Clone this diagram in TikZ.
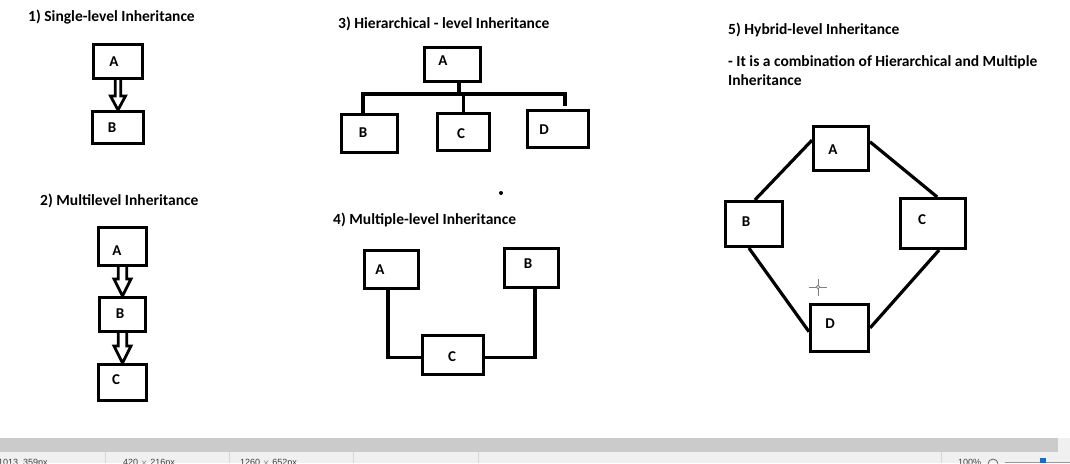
\documentclass[tikz,border=0pt]{standalone}
\usepackage{fontspec}
\setmainfont{Carlito}
\newfontfamily\uifont{Liberation Sans}
\usepackage{tikz}

\definecolor{bar_gray}{HTML}{CBCBCB}
\definecolor{status_gray}{HTML}{F0F0F0}
\definecolor{sep_gray}{HTML}{D6D6D6}
\definecolor{thumb_blue}{HTML}{0A6FD8}

% hollow block arrow: from, to, shaft half width, head half width, head length
\newcommand{\openarrow}[5]{%
  \draw[hollow_arrow] ([xshift=-#3]#1.south) -- ([xshift=-#3,yshift=#5]#2.north)
    -- ([xshift=-#4,yshift=#5]#2.north) -- (#2.north)
    -- ([xshift=#4,yshift=#5]#2.north) -- ([xshift=#3,yshift=#5]#2.north)
    -- ([xshift=#3]#1.south);}

\begin{document}
\begin{tikzpicture}[x=1pt,y=-1pt,
  class_box/.style={draw,line width=3pt,fill=white,inner sep=0pt},
  lbl/.style n args={3}{label={[letter,xshift=#1,yshift=#2]center:#3}},
  letter/.style={font=\bfseries\fontsize{15}{17}\selectfont},
  link/.style={line width=3.2pt},
  hollow_arrow/.style={draw,line width=2.8pt,fill=white,line join=miter},
  title/.style={anchor=base west,inner sep=0pt,font=\bfseries\fontsize{15.5}{19}\selectfont}]

    \useasboundingbox[fill=white] (0,0) rectangle (1070,463);

    % 1) single
    \node[title] (t1) at (28,21.5) {1) Single-level Inheritance};
    \node[class_box,minimum width=49,minimum height=34,lbl={-4}{0}{A}] (A1) at (118,61.5) {};
    \node[class_box,minimum width=51,minimum height=32,lbl={-6}{0}{B}] (B1) at (118,127.5) {};
    \openarrow{A1}{B1}{2.8}{7.5}{14}

    % 2) multilevel
    \node[title] (t2) at (40,205) {2) Multilevel Inheritance};
    \node[class_box,minimum width=48,minimum height=38,lbl={-5.5}{-4.5}{A}] (A2) at (122.5,246.5) {};
    \node[class_box,minimum width=46,minimum height=34,lbl={-2.5}{0.5}{B}] (B2) at (122.5,314.5) {};
    \node[class_box,minimum width=48,minimum height=36,lbl={-6.5}{2.5}{C}] (C2) at (122.5,382.5) {};
    \openarrow{A2}{B2}{4.2}{8.5}{17}
    \openarrow{B2}{C2}{4.2}{8.5}{17}

    % 3) hierarchical
    \node[title] (t3) at (338,28) {3) Hierarchical - level Inheritance};
    \node[class_box,minimum width=56,minimum height=34,lbl={-9.5}{3.5}{A}] (A3) at (452.5,64.5) {};
    \node[class_box,minimum width=56,minimum height=38,lbl={-6.5}{0.5}{B}] (B3) at (369.5,133.5) {};
    \node[class_box,minimum width=52,minimum height=37,lbl={-2.5}{-2}{C}] (C3) at (463.5,132) {};
    \node[class_box,minimum width=61,minimum height=37,lbl={-14}{-1}{D}] (D3) at (558,129) {};
    \coordinate (bar_l) at (363,94);
    \coordinate (bar_r) at (565,94);
    \draw[link] ([xshift=6.5]A3.south) -- ([xshift=6.5]A3.south |- bar_l);
    \draw[link] (B3.north -| bar_l) -- (bar_l) -- (bar_r) -- ++(0,12);
    \draw[link] (C3.north) -- (C3.north |- bar_l);
    \fill (501,193) circle (2);

    % 4) multiple
    \node[title] (t4) at (333,224.5) {4) Multiple-level Inheritance};
    \node[class_box,minimum width=54,minimum height=38,lbl={-11.5}{-0.5}{A}] (A4) at (391.5,269.5) {};
    \node[class_box,minimum width=54,minimum height=39,lbl={-3.5}{4}{B}] (B4) at (531.5,268) {};
    \node[class_box,minimum width=61,minimum height=39,lbl={-1}{-2}{C}] (C4) at (453,355) {};
    \draw[link] ([xshift=-3.5]A4.south) |- ([yshift=-2.5]C4.west);
    \draw[link] ([yshift=-2.5]C4.east) -| ([xshift=3.5]B4.south);

    % 5) hybrid
    \node[title] (t5) at (728,34) {5) Hybrid-level Inheritance};
    \node[title,align=left] (t5_note) at (728,85) {- It is a combination of Hierarchical and Multiple\\Inheritance};
    \node[class_box,minimum width=55,minimum height=44,lbl={-8}{-1.5}{A}] (A5) at (841,148.5) {};
    \node[class_box,minimum width=57,minimum height=45,lbl={-8}{2}{B}] (B5) at (754,224) {};
    \node[class_box,minimum width=65,minimum height=50,lbl={-11}{3.5}{C}] (C5) at (933,223.5) {};
    \node[class_box,minimum width=58,minimum height=47,lbl={-9.5}{4}{D}] (D5) at (839.5,328) {};
    \path[link]
      (A5.164) edge (B5.88)
      (A5.13) edge (C5.81)
      (B5.-102) edge (D5.187)
      (C5.-77) edge (D5.east);

    % cursor
    \draw[gray,line width=1pt] (809,287) -- (827,287) (818,279) -- (818,296);
    \draw[gray,fill=white,line width=0.8pt] (818,287) circle (1.8);

    % status bar
    \fill[bar_gray] (0,438) rectangle (1058,452);
    \fill[status_gray] (1058,438) rectangle (1070,452);
    \fill[status_gray] (0,452) rectangle (1070,463);
    \foreach \sx in {105,229,353,478,941}
      \draw[sep_gray,line width=1pt] (\sx,452) -- (\sx,463);
    \begin{scope}[every node/.style={anchor=base west,inner sep=0pt,text=black!75,font=\uifont\fontsize{9}{10}\selectfont}]
      \node (s1) at (-2,465.5) {1013, 359px};
      \node (s2) at (123,465.5) {420 $\times$ 216px};
      \node (s3) at (240,465.5) {1260 $\times$ 652px};
      \node (s4) at (958,465.5) {100\%};
    \end{scope}
    \draw[black!60,line width=0.8pt] (993,464) circle (5);
    \draw[black!40,line width=0.8pt] (1005,462) -- (1070,462);
    \fill[thumb_blue] (1040,457.5) rectangle (1046,463);

\end{tikzpicture}
\end{document}
